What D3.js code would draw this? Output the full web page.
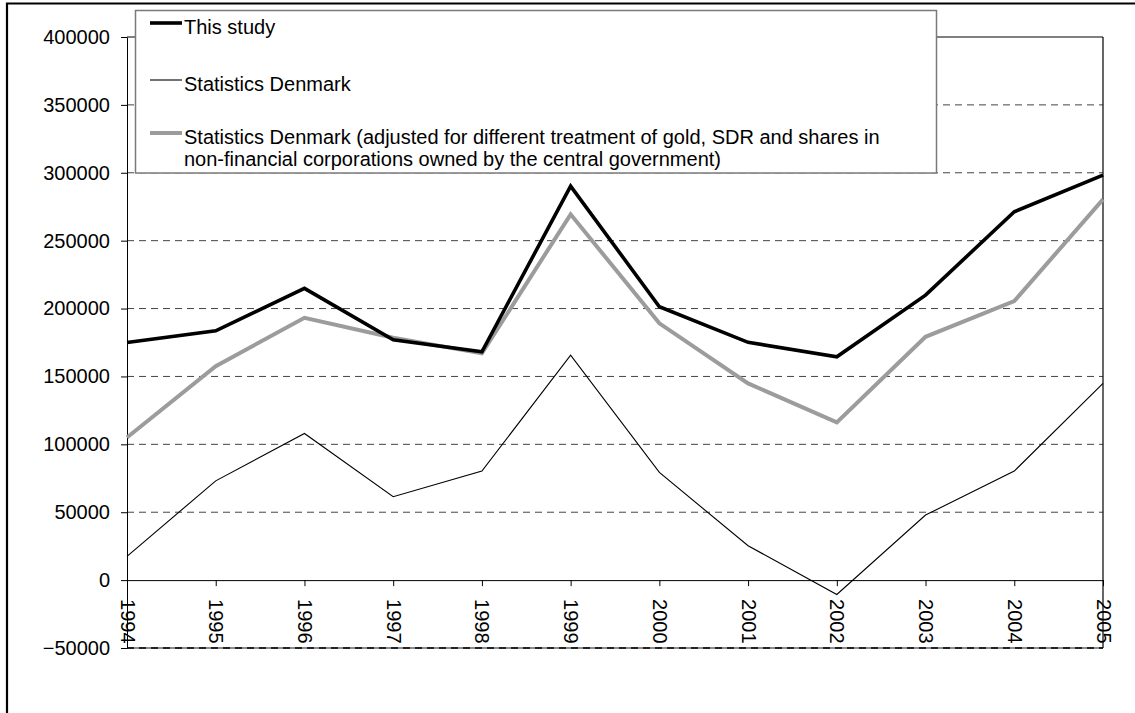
<!DOCTYPE html>
<html>
<head>
<meta charset="utf-8">
<script src="https://cdn.jsdelivr.net/npm/d3@7"></script>
<style>
  html, body { margin: 0; padding: 0; background: #fff; }
  svg { display: block; font-family: "Liberation Sans", Arial, sans-serif; }
</style>
</head>
<body>
<svg id="chart" width="1135" height="713"></svg>
<script>
// ---- data ----
const years = ["1994","1995","1996","1997","1998","1999","2000","2001","2002","2003","2004","2005"];
const thisStudy = [175000,183600,214900,177000,168200,290200,201300,175100,164500,209900,271300,298300];
const statsDenmark = [17500,73100,108000,61400,80300,165700,79300,25300,-10600,47900,80300,144900];
const statsDenmarkAdj = [105000,157600,193200,178500,167000,269400,189100,144900,116200,179200,205500,280400];
const yTicks = [-50000,0,50000,100000,150000,200000,250000,300000,350000,400000];
const seriesNames = [
  ["This study"],
  ["Statistics Denmark"],
  ["Statistics Denmark (adjusted for different treatment of gold, SDR and shares in",
   "non-financial corporations owned by the central government)"]
];

const svg = d3.select("#chart");
const L = 127, R = 1103, T = 37, B = 648;

const x = d3.scalePoint().domain(years).range([L, R]).padding(0);
const y = d3.scaleLinear().domain([-50000, 400000]).range([B, T]);

// outer frame (clipped)
svg.append("path").attr("d", `M7,713 L7,3.5 L1135,3.5`)
  .attr("fill", "none").attr("stroke", "#000").attr("stroke-width", 2.2);

// gridlines
const grid = svg.append("g");
grid.selectAll("line").data(yTicks.filter(v => v !== 0 && v !== -50000 && v !== 400000)).join("line")
  .attr("x1", L).attr("x2", R).attr("y1", d => y(d)).attr("y2", d => y(d))
  .attr("stroke", "#444").attr("stroke-width", 1).attr("stroke-dasharray", "7,5");
// top line
svg.append("line").attr("x1", L).attr("x2", R).attr("y1", y(400000)).attr("y2", y(400000))
  .attr("stroke", "#000").attr("stroke-width", 1);
// bottom line (-50000)
svg.append("line").attr("x1", L).attr("x2", R).attr("y1", y(-50000)).attr("y2", y(-50000))
  .attr("stroke", "#666").attr("stroke-width", 1.5);
svg.append("line").attr("x1", L).attr("x2", R).attr("y1", y(-50000)).attr("y2", y(-50000))
  .attr("stroke", "#000").attr("stroke-width", 1.5).attr("stroke-dasharray", "7,5");
// right border
svg.append("line").attr("x1", R).attr("x2", R).attr("y1", T).attr("y2", B)
  .attr("stroke", "#000").attr("stroke-width", 1.2);

// y axis
const yAxis = svg.append("g").attr("transform", `translate(${L},0)`)
  .call(d3.axisLeft(y).tickValues(yTicks).tickFormat(d3.format("d")).tickSize(6).tickSizeOuter(0).tickPadding(11));
yAxis.selectAll("text").attr("font-size", 20).attr("fill", "#000").attr("font-family", "Liberation Sans, Arial, sans-serif");
yAxis.selectAll("line,path").attr("stroke", "#000");

// x axis at zero
const xAxis = svg.append("g").attr("transform", `translate(0,${y(0)})`)
  .call(d3.axisBottom(x).tickSize(6).tickSizeOuter(0));
xAxis.selectAll("line,path").attr("stroke", "#000");
xAxis.selectAll("text")
  .attr("font-size", 20).attr("fill", "#000").attr("font-family", "Liberation Sans, Arial, sans-serif")
  .attr("x", 0).attr("y", 0).attr("dy", "0.35em")
  .attr("text-anchor", "start")
  .attr("transform", "translate(0,19) rotate(90)");

// lines
const line = d3.line().x((d, i) => x(years[i])).y(d => y(d));
svg.append("path").datum(statsDenmarkAdj).attr("d", line)
  .attr("fill", "none").attr("stroke", "#9c9c9c").attr("stroke-width", 4).attr("stroke-linejoin", "miter");
svg.append("path").datum(statsDenmark).attr("d", line)
  .attr("fill", "none").attr("stroke", "#000").attr("stroke-width", 1.1);
svg.append("path").datum(thisStudy).attr("d", line)
  .attr("fill", "none").attr("stroke", "#000").attr("stroke-width", 3.6);

// legend
const lg = svg.append("g");
lg.append("rect").attr("x", 135.5).attr("y", 10.5).attr("width", 801).attr("height", 162.5)
  .attr("fill", "#fff").attr("stroke", "#7a7a7a").attr("stroke-width", 1.5);
const styles = [
  {stroke: "#000", w: 3.6, ly: 23, ty: [27]},
  {stroke: "#000", w: 1.1, ly: 80, ty: [84]},
  {stroke: "#9c9c9c", w: 4, ly: 133, ty: [137, 159]}
];
styles.forEach((s, i) => {
  lg.append("line").attr("x1", 150).attr("x2", 182).attr("y1", s.ly).attr("y2", s.ly)
    .attr("stroke", s.stroke).attr("stroke-width", s.w);
  seriesNames[i].forEach((t, j) => {
    lg.append("text").attr("x", 184).attr("y", s.ty[j]).attr("dy", "0.35em")
      .attr("font-size", 20).attr("fill", "#000").text(t);
  });
});
</script>
</body>
</html>
